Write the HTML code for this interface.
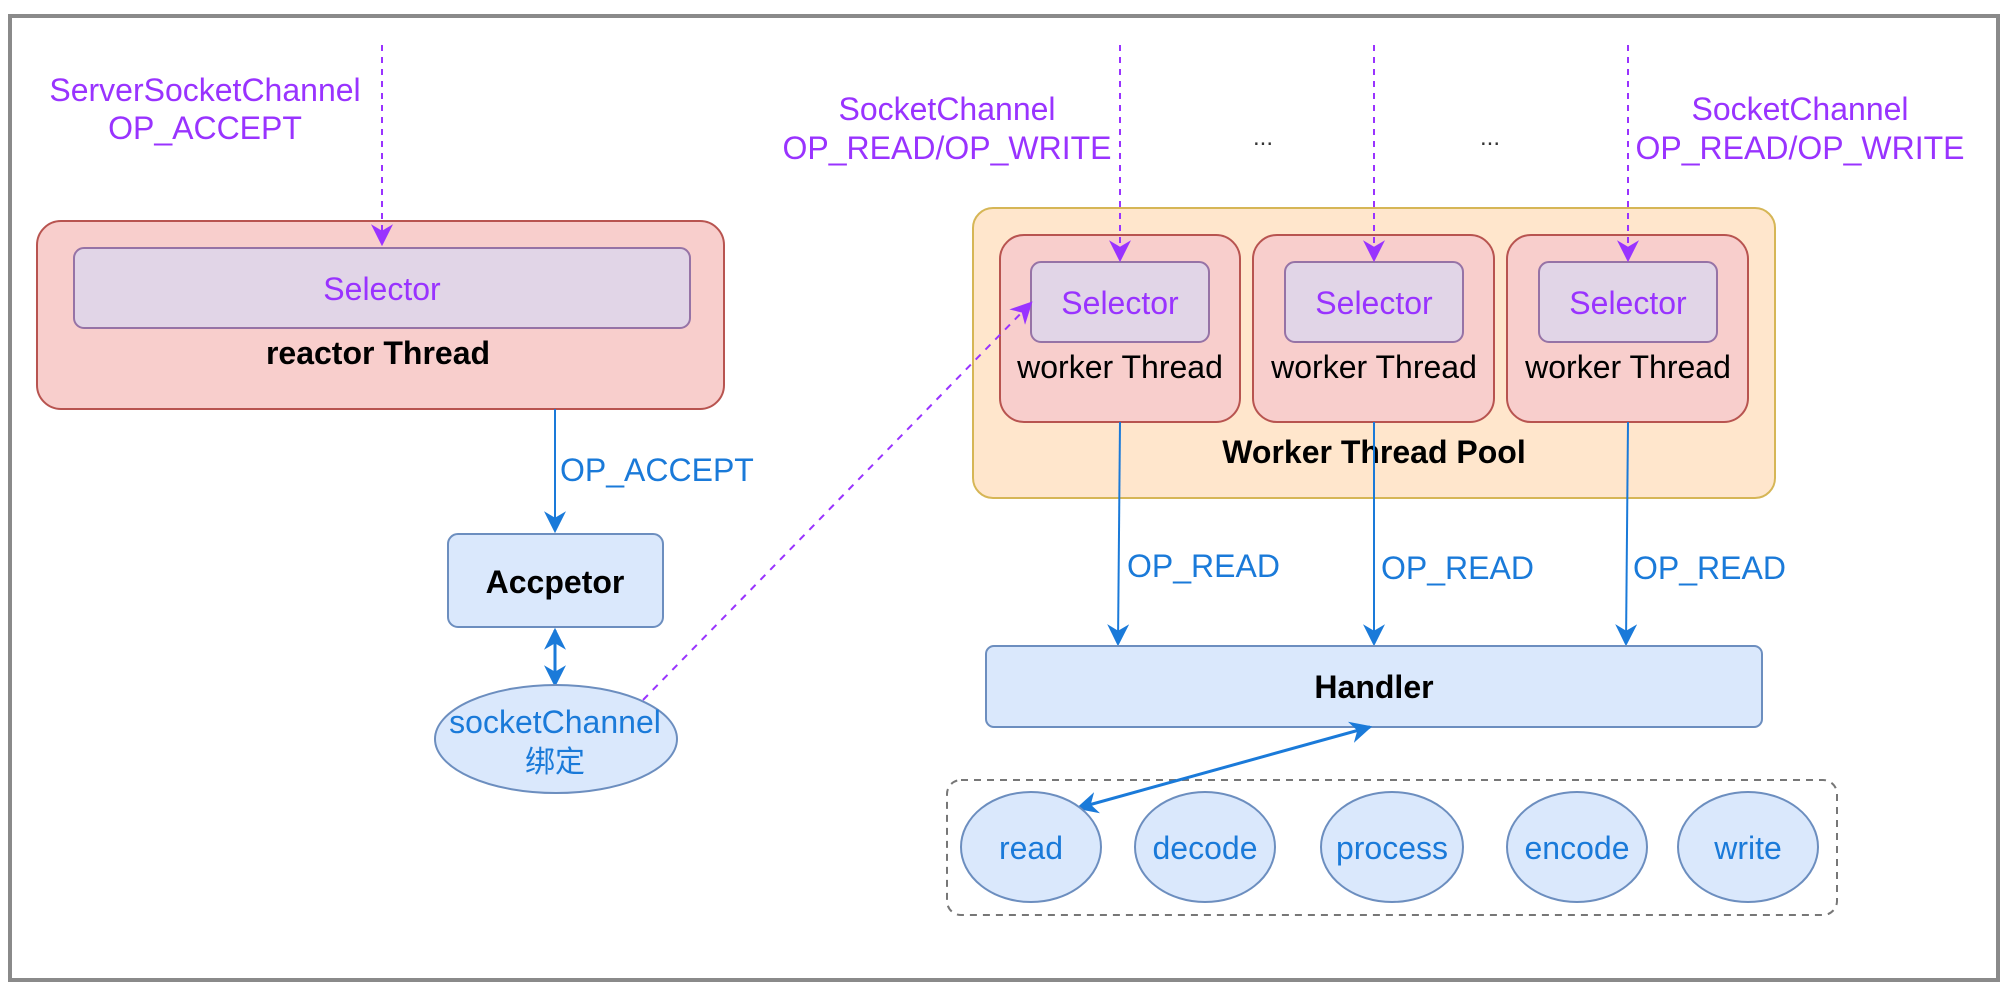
<!DOCTYPE html>
<html><head><meta charset="utf-8"><style>
html,body{margin:0;padding:0;background:#fff;}
svg{display:block;}
text{font-family:"Liberation Sans","Noto Sans CJK SC",sans-serif;}
</style></head><body>
<svg width="2014" height="989" viewBox="0 0 2014 989" xmlns="http://www.w3.org/2000/svg">
<defs>
<marker id="ba" viewBox="0 0 10 10" refX="9" refY="5" markerWidth="22" markerHeight="22" orient="auto-start-reverse" markerUnits="userSpaceOnUse"><path d="M0,0 L10,5 L0,10 L3,5 z" fill="#1a7ad9"/></marker>
<marker id="pa2" viewBox="0 0 10 10" refX="9" refY="5" markerWidth="22" markerHeight="22" orient="auto" markerUnits="userSpaceOnUse"><path d="M0,0 L10,5 L0,10 L3,5 z" fill="#9933ff"/></marker>
</defs>
<rect x="0" y="0" width="2014" height="989" fill="#fff"/>
<rect x="10" y="16" width="1988" height="964" fill="none" stroke="#8a8a8a" stroke-width="4"/>

<!-- reactor -->
<rect x="37" y="221" width="687" height="188" rx="24" fill="#f8cecc" stroke="#b85450" stroke-width="2"/>
<rect x="74" y="248" width="616" height="80" rx="10" fill="#e1d5e7" stroke="#9673a6" stroke-width="2"/>
<text x="382" y="300" font-size="32" fill="#9933ff" text-anchor="middle">Selector</text>
<text x="378" y="364" font-size="32" font-weight="bold" fill="#000" text-anchor="middle">reactor Thread</text>
<text x="205" y="101" font-size="32" fill="#9933ff" text-anchor="middle">ServerSocketChannel</text>
<text x="205" y="139" font-size="32" fill="#9933ff" text-anchor="middle">OP_ACCEPT</text>
<line x1="382" y1="45" x2="382" y2="244" stroke="#9933ff" stroke-width="2" stroke-dasharray="6,6" marker-end="url(#pa2)"/>

<!-- OP_ACCEPT arrow -->
<line x1="555" y1="409" x2="555" y2="531" stroke="#1a7ad9" stroke-width="2" marker-end="url(#ba)"/>
<text x="560" y="481" font-size="32" fill="#1a7ad9">OP_ACCEPT</text>
<rect x="448" y="534" width="215" height="93" rx="10" fill="#dae8fc" stroke="#6c8ebf" stroke-width="2"/>
<text x="555" y="593" font-size="32" font-weight="bold" fill="#000" text-anchor="middle">Accpetor</text>
<line x1="555" y1="630" x2="555" y2="685" stroke="#1a7ad9" stroke-width="3" marker-start="url(#ba)" marker-end="url(#ba)"/>
<ellipse cx="556" cy="739" rx="121" ry="54" fill="#dae8fc" stroke="#6c8ebf" stroke-width="2"/>
<text x="555" y="733" font-size="32" fill="#1a7ad9" text-anchor="middle">socketChannel</text>
<text x="555" y="772" font-size="30" fill="#1a7ad9" text-anchor="middle">绑定</text>

<!-- worker pool -->
<rect x="973" y="208" width="802" height="290" rx="20" fill="#ffe6cc" stroke="#d6b656" stroke-width="2"/>
<g>
<rect x="1000" y="235" width="240" height="187" rx="24" fill="#f8cecc" stroke="#b85450" stroke-width="2"/>
<rect x="1031" y="262" width="178" height="80" rx="10" fill="#e1d5e7" stroke="#9673a6" stroke-width="2"/>
<text x="1120" y="314" font-size="32" fill="#9933ff" text-anchor="middle">Selector</text>
<text x="1120" y="378" font-size="32" fill="#000" text-anchor="middle">worker Thread</text>
</g>
<g>
<rect x="1253" y="235" width="241" height="187" rx="24" fill="#f8cecc" stroke="#b85450" stroke-width="2"/>
<rect x="1285" y="262" width="178" height="80" rx="10" fill="#e1d5e7" stroke="#9673a6" stroke-width="2"/>
<text x="1374" y="314" font-size="32" fill="#9933ff" text-anchor="middle">Selector</text>
<text x="1374" y="378" font-size="32" fill="#000" text-anchor="middle">worker Thread</text>
</g>
<g>
<rect x="1507" y="235" width="241" height="187" rx="24" fill="#f8cecc" stroke="#b85450" stroke-width="2"/>
<rect x="1539" y="262" width="178" height="80" rx="10" fill="#e1d5e7" stroke="#9673a6" stroke-width="2"/>
<text x="1628" y="314" font-size="32" fill="#9933ff" text-anchor="middle">Selector</text>
<text x="1628" y="378" font-size="32" fill="#000" text-anchor="middle">worker Thread</text>
</g>
<text x="1374" y="463" font-size="32" font-weight="bold" fill="#000" text-anchor="middle">Worker Thread Pool</text>

<line x1="643" y1="700" x2="1031" y2="303" stroke="#9933ff" stroke-width="2" stroke-dasharray="7,7" marker-end="url(#pa2)"/>

<line x1="1120" y1="45" x2="1120" y2="260" stroke="#9933ff" stroke-width="2" stroke-dasharray="6,6" marker-end="url(#pa2)"/>
<line x1="1374" y1="45" x2="1374" y2="260" stroke="#9933ff" stroke-width="2" stroke-dasharray="6,6" marker-end="url(#pa2)"/>
<line x1="1628" y1="45" x2="1628" y2="260" stroke="#9933ff" stroke-width="2" stroke-dasharray="6,6" marker-end="url(#pa2)"/>

<text x="947" y="120" font-size="32" fill="#9933ff" text-anchor="middle">SocketChannel</text>
<text x="947" y="159" font-size="32" fill="#9933ff" text-anchor="middle">OP_READ/OP_WRITE</text>
<text x="1800" y="120" font-size="32" fill="#9933ff" text-anchor="middle">SocketChannel</text>
<text x="1800" y="159" font-size="32" fill="#9933ff" text-anchor="middle">OP_READ/OP_WRITE</text>
<text x="1263" y="145" font-size="24" fill="#333" text-anchor="middle">...</text>
<text x="1490" y="145" font-size="24" fill="#333" text-anchor="middle">...</text>

<!-- OP_READ arrows -->
<line x1="1120" y1="422" x2="1118" y2="644" stroke="#1a7ad9" stroke-width="2" marker-end="url(#ba)"/>
<line x1="1374" y1="422" x2="1374" y2="644" stroke="#1a7ad9" stroke-width="2" marker-end="url(#ba)"/>
<line x1="1628" y1="422" x2="1626" y2="644" stroke="#1a7ad9" stroke-width="2" marker-end="url(#ba)"/>
<text x="1127" y="577" font-size="32" fill="#1a7ad9">OP_READ</text>
<text x="1381" y="579" font-size="32" fill="#1a7ad9">OP_READ</text>
<text x="1633" y="579" font-size="32" fill="#1a7ad9">OP_READ</text>

<rect x="986" y="646" width="776" height="81" rx="8" fill="#dae8fc" stroke="#6c8ebf" stroke-width="2"/>
<text x="1374" y="698" font-size="32" font-weight="bold" fill="#000" text-anchor="middle">Handler</text>

<rect x="947" y="780" width="890" height="135" rx="14" fill="none" stroke="#777" stroke-width="2" stroke-dasharray="7,6"/>
<line x1="1370" y1="727" x2="1078" y2="808" stroke="#1a7ad9" stroke-width="3" marker-start="url(#ba)" marker-end="url(#ba)"/>

<ellipse cx="1031" cy="847" rx="70" ry="55" fill="#dae8fc" stroke="#6c8ebf" stroke-width="2"/>
<ellipse cx="1205" cy="847" rx="70" ry="55" fill="#dae8fc" stroke="#6c8ebf" stroke-width="2"/>
<ellipse cx="1392" cy="847" rx="71" ry="55" fill="#dae8fc" stroke="#6c8ebf" stroke-width="2"/>
<ellipse cx="1577" cy="847" rx="70" ry="55" fill="#dae8fc" stroke="#6c8ebf" stroke-width="2"/>
<ellipse cx="1748" cy="847" rx="70" ry="55" fill="#dae8fc" stroke="#6c8ebf" stroke-width="2"/>
<text x="1031" y="859" font-size="32" fill="#1a7ad9" text-anchor="middle">read</text>
<text x="1205" y="859" font-size="32" fill="#1a7ad9" text-anchor="middle">decode</text>
<text x="1392" y="859" font-size="32" fill="#1a7ad9" text-anchor="middle">process</text>
<text x="1577" y="859" font-size="32" fill="#1a7ad9" text-anchor="middle">encode</text>
<text x="1748" y="859" font-size="32" fill="#1a7ad9" text-anchor="middle">write</text>
</svg>
</body></html>
